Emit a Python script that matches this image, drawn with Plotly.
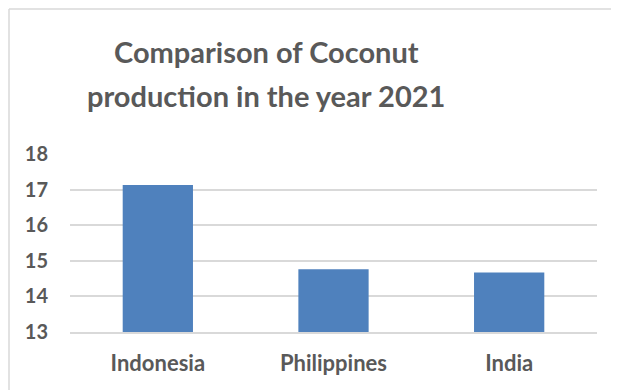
import plotly.graph_objects as go

categories = ["Indonesia", "Philippines", "India"]
production = [17.13, 14.76, 14.67]
y_ticks = [13, 14, 15, 16, 17, 18]
title_lines = ["Comparison of Coconut", "production in the year 2021"]

TEXT = "#595959"
GRID = "#d9d9d9"
FONT = "Lato, Open Sans, sans-serif"

# the page has an 8px body margin; figure coords = page coords - 8
W, H = 611, 382
L, T, R, B = 62, 146, 22, 58
PW = W - L - R
PH = H - T - B


def px(x):
    return (x - 8 - L) / PW


def py(y):
    return (H - B - (y - 8)) / PH


fig = go.Figure(
    go.Bar(
        x=categories,
        y=production,
        marker=dict(color="#4f81bd", line=dict(width=0)),
        width=0.4,
    )
)

border = dict(color=GRID, width=1.5)

fig.update_layout(
    width=W,
    height=H,
    margin=dict(l=L, r=R, t=T, b=B, autoexpand=False),
    paper_bgcolor="white",
    plot_bgcolor="white",
    showlegend=False,
    font=dict(family=FONT, color=TEXT),
    annotations=[
        dict(
            text=title_lines[0], xref="paper", yref="paper",
            x=px(266), y=py(52), xanchor="center", yanchor="middle",
            showarrow=False, font=dict(family=FONT, size=29, color=TEXT, weight="bold"),
        ),
        dict(
            text=title_lines[1], xref="paper", yref="paper",
            x=px(266), y=py(95), xanchor="center", yanchor="middle",
            showarrow=False, font=dict(family=FONT, size=29, color=TEXT, weight="bold"),
        ),
    ],
    shapes=[
        dict(type="line", xref="paper", yref="paper",
             x0=px(9), x1=px(619), y0=py(9), y1=py(9), line=border, layer="below"),
        dict(type="line", xref="paper", yref="paper",
             x0=px(9), x1=px(9), y0=py(9), y1=py(392), line=border, layer="below"),
    ],
)

fig.update_yaxes(
    range=[13, 18],
    tickvals=y_ticks,
    showgrid=True,
    gridcolor=GRID,
    gridwidth=1.5,
    zeroline=False,
    ticks="",
    automargin=False,
    ticklabelstandoff=21,
    tickfont=dict(family=FONT, size=20, color=TEXT, weight="bold"),
)
fig.update_xaxes(
    showline=True,
    linecolor=GRID,
    linewidth=1.5,
    ticks="",
    automargin=False,
    ticklabelstandoff=11,
    tickfont=dict(family=FONT, size=22, color=TEXT, weight="bold"),
)

fig.write_html("out.html")
